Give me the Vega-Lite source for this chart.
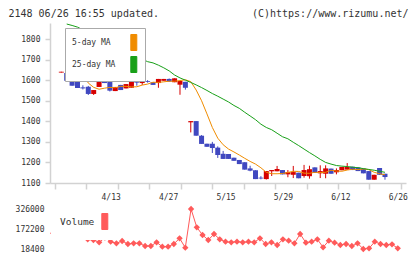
{
  "$schema": "https://vega.github.io/schema/vega-lite/v6.json",
  "background": "white",
  "padding": {"left": 8, "top": 8, "right": 4, "bottom": 2},
  "spacing": 3,
  "config": {
    "view": {"stroke": null},
    "axis": {
      "labelFont": "DejaVu Sans Mono",
      "labelFontSize": 8,
      "labelColor": "#333333",
      "labelOverlap": false,
      "domainColor": "#d2d2d2",
      "tickColor": "#d2d2d2",
      "domainWidth": 1.5,
      "tickWidth": 1.5,
      "grid": false
    }
  },
  "resolve": {"scale": {"color": "independent"}, "legend": {"color": "independent"}},
  "datasets": {
    "prices": [
      {"i": 0, "d": "3/30", "o": 1637, "h": 1641, "l": 1637, "c": 1641, "v": 140000, "5-day MA": null, "25-day MA": null},
      {"i": 1, "d": "3/31", "o": 1635, "h": 1646, "l": 1597, "c": 1597, "v": 126000, "5-day MA": 1844, "25-day MA": 1873},
      {"i": 2, "d": "4/1", "o": 1606, "h": 1606, "l": 1573, "c": 1573, "v": 124000, "5-day MA": 1760, "25-day MA": 1866},
      {"i": 3, "d": "4/2", "o": 1601, "h": 1601, "l": 1562, "c": 1562, "v": 140000, "5-day MA": 1690, "25-day MA": 1858},
      {"i": 4, "d": "4/3", "o": 1565, "h": 1575, "l": 1555, "c": 1560, "v": 124000, "5-day MA": 1630, "25-day MA": 1845},
      {"i": 5, "d": "4/6", "o": 1568, "h": 1572, "l": 1528, "c": 1533, "v": 135000, "5-day MA": 1586, "25-day MA": 1832},
      {"i": 6, "d": "4/7", "o": 1533, "h": 1552, "l": 1528, "c": 1552, "v": 93000, "5-day MA": 1565, "25-day MA": 1819},
      {"i": 7, "d": "4/8", "o": 1567, "h": 1596, "l": 1567, "c": 1596, "v": 87600, "5-day MA": 1556, "25-day MA": 1806},
      {"i": 8, "d": "4/9", "o": 1606, "h": 1606, "l": 1586, "c": 1586, "v": 69900, "5-day MA": 1561, "25-day MA": 1793},
      {"i": 9, "d": "4/10", "o": 1601, "h": 1610, "l": 1545, "c": 1549, "v": 105300, "5-day MA": 1565, "25-day MA": 1780},
      {"i": 10, "d": "4/13", "o": 1547, "h": 1567, "l": 1547, "c": 1567, "v": 74500, "5-day MA": 1563, "25-day MA": 1767},
      {"i": 11, "d": "4/14", "o": 1577, "h": 1577, "l": 1552, "c": 1552, "v": 62200, "5-day MA": 1570, "25-day MA": 1754},
      {"i": 12, "d": "4/15", "o": 1560, "h": 1581, "l": 1560, "c": 1581, "v": 79900, "5-day MA": 1570, "25-day MA": 1741},
      {"i": 13, "d": "4/16", "o": 1563, "h": 1592, "l": 1563, "c": 1592, "v": 56800, "5-day MA": 1567, "25-day MA": 1728},
      {"i": 14, "d": "4/17", "o": 1593, "h": 1601, "l": 1573, "c": 1588, "v": 62200, "5-day MA": 1568, "25-day MA": 1715},
      {"i": 15, "d": "4/20", "o": 1586, "h": 1596, "l": 1577, "c": 1592, "v": 62200, "5-day MA": 1576, "25-day MA": 1702},
      {"i": 16, "d": "4/21", "o": 1596, "h": 1600, "l": 1588, "c": 1592, "v": 41500, "5-day MA": 1581, "25-day MA": 1690},
      {"i": 17, "d": "4/22", "o": 1590, "h": 1590, "l": 1577, "c": 1577, "v": 41500, "5-day MA": 1590, "25-day MA": 1684},
      {"i": 18, "d": "4/23", "o": 1586, "h": 1606, "l": 1563, "c": 1606, "v": 69900, "5-day MA": 1589, "25-day MA": 1673},
      {"i": 19, "d": "4/24", "o": 1597, "h": 1606, "l": 1597, "c": 1606, "v": 36100, "5-day MA": 1592, "25-day MA": 1660},
      {"i": 20, "d": "4/27", "o": 1606, "h": 1608, "l": 1593, "c": 1593, "v": 36100, "5-day MA": 1595, "25-day MA": 1645},
      {"i": 21, "d": "4/28", "o": 1590, "h": 1609, "l": 1590, "c": 1609, "v": 56800, "5-day MA": 1595, "25-day MA": 1625},
      {"i": 22, "d": "4/30", "o": 1578, "h": 1596, "l": 1529, "c": 1596, "v": 100700, "5-day MA": 1598, "25-day MA": 1611},
      {"i": 23, "d": "5/1", "o": 1592, "h": 1592, "l": 1554, "c": 1563, "v": 28400, "5-day MA": 1602, "25-day MA": 1600},
      {"i": 24, "d": "5/7", "o": 1395, "h": 1401, "l": 1346, "c": 1401, "v": 326000, "5-day MA": 1593, "25-day MA": 1589},
      {"i": 25, "d": "5/8", "o": 1401, "h": 1401, "l": 1330, "c": 1330, "v": 185300, "5-day MA": 1552, "25-day MA": 1577},
      {"i": 26, "d": "5/11", "o": 1330, "h": 1333, "l": 1290, "c": 1290, "v": 126100, "5-day MA": 1500, "25-day MA": 1564},
      {"i": 27, "d": "5/12", "o": 1291, "h": 1291, "l": 1276, "c": 1276, "v": 87600, "5-day MA": 1436, "25-day MA": 1550},
      {"i": 28, "d": "5/13", "o": 1291, "h": 1300, "l": 1246, "c": 1270, "v": 133800, "5-day MA": 1370, "25-day MA": 1535},
      {"i": 29, "d": "5/14", "o": 1272, "h": 1278, "l": 1222, "c": 1236, "v": 93000, "5-day MA": 1318, "25-day MA": 1522},
      {"i": 30, "d": "5/15", "o": 1242, "h": 1256, "l": 1217, "c": 1217, "v": 74500, "5-day MA": 1286, "25-day MA": 1508},
      {"i": 31, "d": "5/18", "o": 1241, "h": 1241, "l": 1217, "c": 1217, "v": 69900, "5-day MA": 1265, "25-day MA": 1494},
      {"i": 32, "d": "5/19", "o": 1223, "h": 1223, "l": 1208, "c": 1208, "v": 74500, "5-day MA": 1251, "25-day MA": 1477},
      {"i": 33, "d": "5/20", "o": 1212, "h": 1212, "l": 1192, "c": 1192, "v": 69900, "5-day MA": 1236, "25-day MA": 1463},
      {"i": 34, "d": "5/21", "o": 1201, "h": 1201, "l": 1165, "c": 1165, "v": 74500, "5-day MA": 1220, "25-day MA": 1444},
      {"i": 35, "d": "5/22", "o": 1171, "h": 1184, "l": 1157, "c": 1160, "v": 69900, "5-day MA": 1205, "25-day MA": 1426},
      {"i": 36, "d": "5/25", "o": 1162, "h": 1162, "l": 1119, "c": 1119, "v": 100700, "5-day MA": 1192, "25-day MA": 1408},
      {"i": 37, "d": "5/26", "o": 1126, "h": 1133, "l": 1118, "c": 1122, "v": 56800, "5-day MA": 1174, "25-day MA": 1386},
      {"i": 38, "d": "5/27", "o": 1119, "h": 1158, "l": 1117, "c": 1158, "v": 69900, "5-day MA": 1152, "25-day MA": 1370},
      {"i": 39, "d": "5/28", "o": 1157, "h": 1163, "l": 1134, "c": 1163, "v": 49200, "5-day MA": 1145, "25-day MA": 1359},
      {"i": 40, "d": "5/29", "o": 1157, "h": 1183, "l": 1157, "c": 1168, "v": 93000, "5-day MA": 1145, "25-day MA": 1342},
      {"i": 41, "d": "6/1", "o": 1163, "h": 1163, "l": 1142, "c": 1142, "v": 82200, "5-day MA": 1146, "25-day MA": 1325},
      {"i": 42, "d": "6/2", "o": 1142, "h": 1163, "l": 1128, "c": 1153, "v": 62200, "5-day MA": 1151, "25-day MA": 1315},
      {"i": 43, "d": "6/3", "o": 1140, "h": 1183, "l": 1124, "c": 1153, "v": 133800, "5-day MA": 1157, "25-day MA": 1298},
      {"i": 44, "d": "6/4", "o": 1150, "h": 1150, "l": 1123, "c": 1123, "v": 67000, "5-day MA": 1156, "25-day MA": 1282},
      {"i": 45, "d": "6/5", "o": 1134, "h": 1188, "l": 1126, "c": 1163, "v": 74500, "5-day MA": 1148, "25-day MA": 1265},
      {"i": 46, "d": "6/8", "o": 1133, "h": 1184, "l": 1121, "c": 1167, "v": 93000, "5-day MA": 1147, "25-day MA": 1248},
      {"i": 47, "d": "6/9", "o": 1176, "h": 1176, "l": 1149, "c": 1149, "v": 31500, "5-day MA": 1152, "25-day MA": 1232},
      {"i": 48, "d": "6/10", "o": 1147, "h": 1186, "l": 1124, "c": 1158, "v": 82200, "5-day MA": 1151, "25-day MA": 1215},
      {"i": 49, "d": "6/11", "o": 1145, "h": 1186, "l": 1123, "c": 1171, "v": 67000, "5-day MA": 1152, "25-day MA": 1200},
      {"i": 50, "d": "6/12", "o": 1170, "h": 1170, "l": 1145, "c": 1145, "v": 49200, "5-day MA": 1162, "25-day MA": 1192},
      {"i": 51, "d": "6/15", "o": 1152, "h": 1171, "l": 1142, "c": 1163, "v": 56800, "5-day MA": 1158, "25-day MA": 1185},
      {"i": 52, "d": "6/16", "o": 1162, "h": 1178, "l": 1162, "c": 1178, "v": 41500, "5-day MA": 1157, "25-day MA": 1182},
      {"i": 53, "d": "6/17", "o": 1165, "h": 1197, "l": 1165, "c": 1178, "v": 62200, "5-day MA": 1163, "25-day MA": 1180},
      {"i": 54, "d": "6/18", "o": 1179, "h": 1179, "l": 1163, "c": 1163, "v": 18400, "5-day MA": 1167, "25-day MA": 1177},
      {"i": 55, "d": "6/19", "o": 1176, "h": 1176, "l": 1158, "c": 1158, "v": 23800, "5-day MA": 1165, "25-day MA": 1174},
      {"i": 56, "d": "6/22", "o": 1170, "h": 1170, "l": 1147, "c": 1147, "v": 74500, "5-day MA": 1168, "25-day MA": 1170},
      {"i": 57, "d": "6/23", "o": 1158, "h": 1158, "l": 1116, "c": 1116, "v": 56800, "5-day MA": 1165, "25-day MA": 1166},
      {"i": 58, "d": "6/24", "o": 1116, "h": 1140, "l": 1116, "c": 1140, "v": 49200, "5-day MA": 1152, "25-day MA": 1162},
      {"i": 59, "d": "6/25", "o": 1173, "h": 1173, "l": 1140, "c": 1140, "v": 54500, "5-day MA": 1145, "25-day MA": 1157},
      {"i": 60, "d": "6/26", "o": 1145, "h": 1145, "l": 1116, "c": 1129, "v": 23800, "5-day MA": 1140, "25-day MA": 1152}
    ]
  },
  "vconcat": [
    {
      "width": 356,
      "height": 160,
      "data": {"name": "prices"},
      "encoding": {
        "x": {
          "field": "i",
          "type": "quantitative",
          "scale": {"domain": [-1.17, 62.97], "nice": false, "zero": false},
          "axis": {
            "values": [-1.17, 4.66, 10.49, 16.32, 22.15, 27.98, 33.81, 39.64, 45.47, 51.3, 57.13, 62.96],
            "labels": false,
            "tickSize": 6,
            "title": "(C)https://www.rizumu.net/",
            "titleX": 358,
            "titleY": -167,
            "titleAngle": 0,
            "titleAlign": "right",
            "titleBaseline": "alphabetic",
            "titleFont": "DejaVu Sans Mono",
            "titleFontSize": 10,
            "titleFontWeight": "normal",
            "titleColor": "#333333"
          }
        }
      },
      "layer": [
        {
          "mark": {"type": "rule", "strokeWidth": 1},
          "encoding": {
            "y": {
              "field": "l",
              "type": "quantitative",
              "scale": {"domain": [1100, 1878], "nice": false, "zero": false},
              "axis": {
                "values": [1100, 1200, 1300, 1400, 1500, 1600, 1700, 1800],
                "format": "d",
                "labelOverlap": false,
                "tickSize": 5,
                "labelPadding": 5,
                "title": "2148 06/26 16:55 updated.",
                "titleX": -42,
                "titleY": -7,
                "titleAngle": 0,
                "titleAlign": "left",
                "titleBaseline": "alphabetic",
                "titleFont": "DejaVu Sans Mono",
                "titleFontSize": 10,
                "titleFontWeight": "normal",
                "titleColor": "#333333"
              }
            },
            "y2": {"field": "h"},
            "color": {"condition": {"test": "datum.c >= datum.o", "value": "#d60000"}, "value": "#4048c0"}
          }
        },
        {
          "mark": {"type": "bar", "size": 5},
          "encoding": {
            "y": {
              "field": "o",
              "type": "quantitative",
              "axis": {
                "values": [1100, 1200, 1300, 1400, 1500, 1600, 1700, 1800],
                "format": "d",
                "labelOverlap": false,
                "tickSize": 5,
                "labelPadding": 5,
                "title": "2148 06/26 16:55 updated.",
                "titleX": -42,
                "titleY": -7,
                "titleAngle": 0,
                "titleAlign": "left",
                "titleBaseline": "alphabetic",
                "titleFont": "DejaVu Sans Mono",
                "titleFontSize": 10,
                "titleFontWeight": "normal",
                "titleColor": "#333333"
              }
            },
            "y2": {"field": "c"},
            "color": {"condition": {"test": "datum.c >= datum.o", "value": "#d60000"}, "value": "#4048c0"}
          }
        },
        {
          "transform": [{"fold": ["5-day MA", "25-day MA"], "as": ["series", "value"]}],
          "mark": {"type": "line", "strokeWidth": 1},
          "encoding": {
            "y": {
              "field": "value",
              "type": "quantitative",
              "axis": {
                "values": [1100, 1200, 1300, 1400, 1500, 1600, 1700, 1800],
                "format": "d",
                "labelOverlap": false,
                "tickSize": 5,
                "labelPadding": 5,
                "title": "2148 06/26 16:55 updated.",
                "titleX": -42,
                "titleY": -7,
                "titleAngle": 0,
                "titleAlign": "left",
                "titleBaseline": "alphabetic",
                "titleFont": "DejaVu Sans Mono",
                "titleFontSize": 10,
                "titleFontWeight": "normal",
                "titleColor": "#333333"
              }
            },
            "color": {
              "field": "series",
              "type": "nominal",
              "scale": {"domain": ["5-day MA", "25-day MA"], "range": ["#f08c00", "#18a018"]},
              "legend": {
                "orient": "none",
                "legendX": 15,
                "legendY": 5,
                "title": null,
                "direction": "vertical",
                "zindex": 1,
                "fillColor": "white",
                "strokeColor": "#aaaaaa",
                "padding": 6,
                "rowPadding": 1,
                "symbolType": "M-0.375,-1H0.375V1H-0.375Z",
                "symbolSize": 256,
                "symbolStrokeWidth": 1,
                "symbolOffset": 54.3,
                "labelOffset": -70.3,
                "labelAlign": "left",
                "labelExpr": "pad(datum.label, 9, ' ', 'left')",
                "labelFont": "DejaVu Sans Mono",
                "labelFontSize": 8,
                "labelColor": "#333333",
                "encode": {
                  "symbols": {
                    "update": {
                      "fill": {"signal": "datum.value === '5-day MA' ? '#f08c00' : '#18a018'"},
                      "stroke": {"value": "#444444"},
                      "opacity": {"value": 1},
                      "fillOpacity": {"value": 1}
                    }
                  }
                }
              }
            }
          }
        }
      ]
    },
    {
      "width": 356,
      "height": 50,
      "data": {"name": "prices"},
      "encoding": {
        "x": {
          "field": "d",
          "type": "ordinal",
          "sort": null,
          "scale": {"type": "point", "padding": 2.07, "align": 0.2826},
          "axis": {
            "orient": "top",
            "values": ["4/13", "4/27", "5/15", "5/29", "6/12", "6/26"],
            "labelAngle": 0,
            "domain": false,
            "ticks": false,
            "tickSize": 0,
            "labelPadding": 3,
            "title": null
          }
        },
        "y": {
          "field": "v",
          "type": "quantitative",
          "scale": {"domain": [-20050, 364450], "nice": false, "zero": false},
          "axis": {
            "values": [18400, 172200, 326000],
            "format": "d",
            "labelOverlap": false,
            "domain": false,
            "ticks": false,
            "tickSize": 0,
            "labelPadding": 6,
            "title": null
          }
        },
        "color": {
          "datum": "Volume",
          "scale": {"range": ["#ff5a5a"]},
          "legend": {
            "orient": "none",
            "legendX": 1,
            "legendY": 1,
            "title": null,
            "zindex": 1,
            "fillColor": "white",
            "padding": 8,
            "symbolType": "M-0.375,-1H0.375V1H-0.375Z",
            "symbolSize": 256,
            "symbolStrokeWidth": 1,
            "symbolOffset": 37.3,
            "labelOffset": -53.3,
            "labelAlign": "left",
            "labelFont": "DejaVu Sans Mono",
            "labelFontSize": 9.5,
            "labelColor": "#333333",
            "encode": {
              "symbols": {
                "update": {
                  "fill": {"value": "#ff5a5a"},
                  "stroke": {"value": "#444444"},
                  "opacity": {"value": 1},
                  "fillOpacity": {"value": 1}
                }
              }
            }
          }
        }
      },
      "layer": [
        {"mark": {"type": "line", "strokeWidth": 1}},
        {"mark": {"type": "point", "shape": "diamond", "filled": true, "size": 40, "opacity": 1}}
      ]
    }
  ]
}
